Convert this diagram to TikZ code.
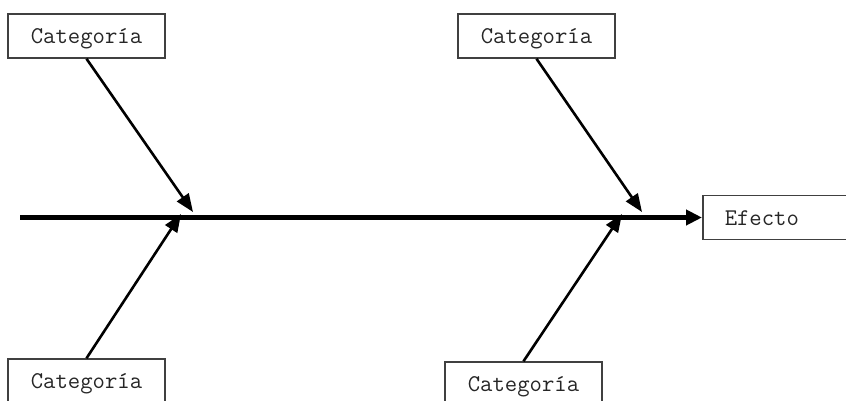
\documentclass[tikz,border=0pt]{standalone}
\usepackage{fontspec}
\usetikzlibrary{arrows.meta}
\begin{document}
\begin{tikzpicture}[x=1pt,y=-1pt,
  catbox/.style={draw=black!75, line width=1.5pt, minimum width=157pt, minimum height=44pt, inner sep=0pt,
    text height=20pt, text depth=5pt,
    font=\ttfamily\fontsize{24}{27}\selectfont, text=black!85},
  spine/.style={line width=4.6pt, -{Triangle[length=16pt,width=15pt]}},
  bone/.style={line width=2.6pt, -{Triangle[length=18pt,width=14pt]}}]
\useasboundingbox (0,0) rectangle (846,400);
\node[catbox] (tl) at (86.5,36) {Categoría};
\node[catbox] (tr) at (536.5,36) {Categoría};
\node[catbox] (bl) at (86.5,381) {Categoría};
\node[catbox] (br) at (523.5,384) {Categoría};
\node[catbox, anchor=west, minimum width=0pt, text width=120pt, inner xsep=22pt, align=left] (ef) at (702,217.5) {Efecto};
\coordinate (start) at (20,217.5);
\coordinate (j1) at (193,212);
\coordinate (j2) at (181,214);
\coordinate (j3) at (642,212);
\coordinate (j4) at (622,214);
\draw[spine] (start) -- (ef.west);
\draw[bone] (tl.south) -- (j1);
\draw[bone] (bl.north) -- (j2);
\draw[bone] (tr.south) -- (j3);
\draw[bone] (br.north) -- (j4);
\end{tikzpicture}
\end{document}
